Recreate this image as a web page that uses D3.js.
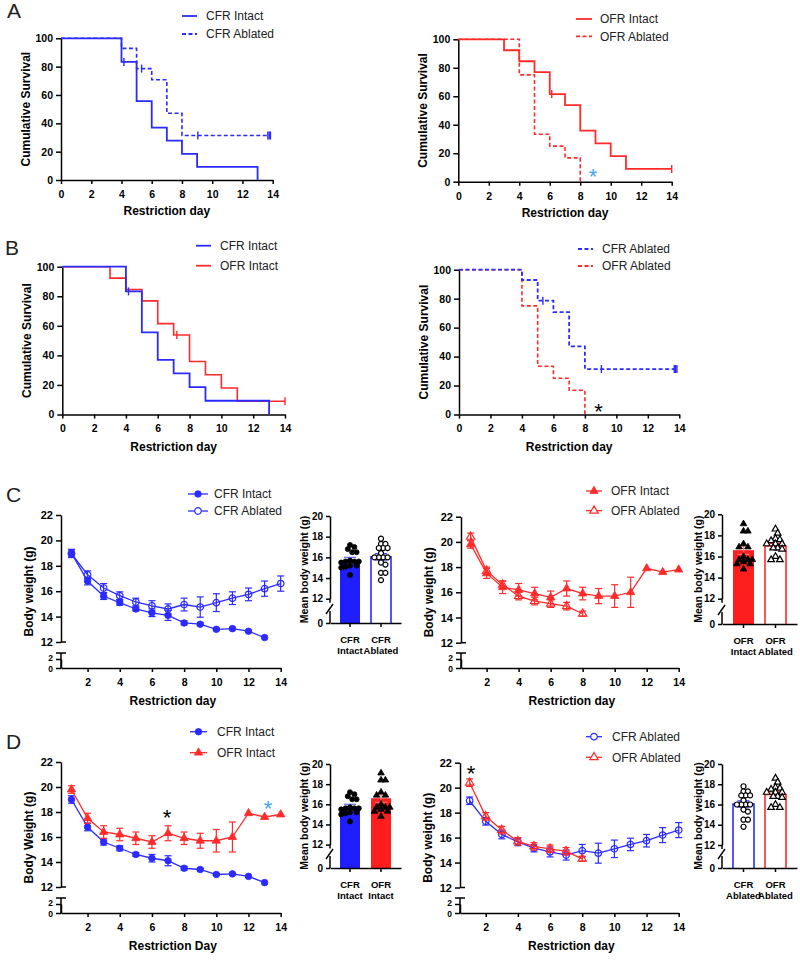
<!DOCTYPE html>
<html><head><meta charset="utf-8">
<script src="https://cdn.jsdelivr.net/npm/d3@7"></script>
<style>body{margin:0;background:#fff;} svg{display:block;}</style>
</head><body><svg id="c" width="800" height="960"></svg>
<script>
// ---------------- DATA ----------------
// Kaplan-Meier survival (time, survival %); last entry = end of follow-up
const survCfrIntactT = [0, 4, 5, 6, 7, 8, 9, 13];
const survCfrIntactS = [100, 83.3, 55.6, 37.0, 27.8, 18.5, 9.3, 0];
const censCfrIntact = [4.16];
const survCfrAblT = [0, 4, 5, 6, 7, 8, 13.85];
const survCfrAblS = [100, 92.9, 78.6, 70.7, 47.1, 31.4, 31.4];
const censCfrAbl = [5.33, 9.05, 13.68, 13.77, 13.85];
const survOfrIntactT = [0, 3, 4, 5, 6, 7, 8, 9, 10, 11, 14];
const survOfrIntactS = [100, 92.3, 84.6, 76.9, 61.5, 53.8, 35.9, 26.9, 17.9, 9.0, 9.0];
const censOfrIntactA = [6.13, 14];
const censOfrIntactB = [7.2, 14];
const survOfrAblT = [0, 4, 5, 6, 7, 8];
const survOfrAblS = [100, 75, 33.3, 25, 16.7, 0];
const survTicksY = [0, 20, 40, 60, 80, 100];
const survTicksX = [0, 2, 4, 6, 8, 10, 12, 14];

// Body weight (g), mean and SEM by restriction day (starting at day 1)
const days = [1, 2, 3, 4, 5, 6, 7, 8, 9, 10, 11, 12, 13, 14];
const cfrIntactMean = [19.0, 16.8, 15.6, 15.1, 14.6, 14.3, 14.1, 13.5, 13.4, 13.0, 13.05, 12.85, 12.35];
const cfrIntactSem  = [0.3, 0.3, 0.25, 0.2, 0.15, 0.3, 0.4, 0.15, 0.1, 0.08, 0.08, 0.08, 0];
const cfrAblMean = [18.95, 17.3, 16.25, 15.65, 15.15, 14.85, 14.6, 14.95, 14.75, 15.1, 15.45, 15.75, 16.2, 16.6];
const cfrAblSem  = [0.3, 0.3, 0.35, 0.3, 0.3, 0.4, 0.4, 0.5, 0.8, 0.7, 0.5, 0.5, 0.6, 0.6];
const ofrIntactMean = [19.8, 17.5, 16.4, 16.2, 15.9, 15.6, 16.3, 15.9, 15.7, 15.7, 16.0, 17.9, 17.6, 17.8];
const ofrIntactSem  = [0.3, 0.4, 0.5, 0.5, 0.5, 0.5, 0.6, 0.5, 0.6, 0.9, 1.2, 0, 0, 0];
const ofrAblMean = [20.4, 17.7, 16.6, 15.7, 15.3, 15.1, 14.9, 14.3];
const ofrAblSem  = [0.3, 0.3, 0.3, 0.3, 0.3, 0.3, 0.3, 0.2];
const weightTicksUpper = [12, 14, 16, 18, 20, 22];
const weightTicksLower = [0, 2];
const weightTicksX = [2, 4, 6, 8, 10, 12, 14];

// Mean body weight per animal (g)
const ptsCfrIntact = [17.2, 17.0, 16.8, 16.5, 16.5, 15.7, 15.6, 15.6, 15.6, 15.5, 15.2, 15.2, 15.1, 15.0, 14.3];
const ptsCfrAbl = [17.8, 17.3, 17.3, 16.9, 16.9, 16.9, 16.4, 16.0, 16.0, 16.0, 16.0, 15.5, 15.3, 14.5, 14.5, 13.8];
const ptsOfrIntact = [19.1, 18.4, 18.4, 17.2, 16.9, 16.9, 16.0, 15.7, 15.7, 15.7, 15.5, 15.3, 15.3, 14.8];
const ptsOfrAbl = [18.6, 18.2, 17.7, 17.6, 17.5, 17.2, 17.2, 17.2, 16.8, 16.8, 16.7, 16.0, 15.7, 15.7];
const barMeanCfrIntact = 15.7, barSemCfrIntact = 0.3;
const barMeanCfrAbl = 16.05, barSemCfrAbl = 0.3;
const barMeanOfrIntact = 16.6, barSemOfrIntact = 0.4;
const barMeanOfrAbl = 17.0, barSemOfrAbl = 0.25;
const barTicksUpper = [12, 14, 16, 18, 20];

// ---------------- DRAWING ----------------
const FONT = '"Liberation Sans", Arial, Helvetica, sans-serif';
const BLUE = '#2b2bff', RED = '#ff2b2b', LBLUE = '#42a5f5';
const BARBLUE = '#1e1eff', BARRED = '#ff1e1e';
const svg = d3.select('#c').attr('font-family', FONT);

function styleAxis(g, fs) {
  g.attr('font-family', FONT);
  g.selectAll('path,line').attr('stroke', '#000').attr('stroke-width', 1.5);
  g.selectAll('text').attr('font-size', fs).attr('font-weight', 'bold').attr('fill', '#000');
}
function stepPath(x, y, T, S) {
  let p = `M${x(T[0])},${y(S[0])}`;
  for (let i = 1; i < T.length; i++) p += `H${x(T[i])}V${y(S[i])}`;
  return p;
}
function survAt(T, S, t) { let v = S[0]; for (let i = 0; i < T.length; i++) if (T[i] <= t) v = S[i]; return v; }
function letter(t, x, y) {
  svg.append('text').attr('x', x).attr('y', y).attr('font-size', 21).attr('fill', '#222').text(t);
}
function star(cx, cy, color) {
  svg.append('text').attr('x', cx).attr('y', cy + 12.5).attr('text-anchor', 'middle')
    .attr('font-size', 22).attr('fill', color).text('*');
}

function survPanel(o) {
  const x = d3.scaleLinear().domain([0, 14]).range([o.ax, o.x14]);
  const y = d3.scaleLinear().domain([0, 100]).range([o.y0, o.y100]);
  const g = svg.append('g');
  styleAxis(g.append('g').attr('transform', `translate(${o.ax},0)`)
    .call(d3.axisLeft(y).tickValues(survTicksY).tickSize(5).tickSizeOuter(0).tickPadding(3)), 10.5);
  styleAxis(g.append('g').attr('transform', `translate(0,${o.y0})`)
    .call(d3.axisBottom(x).tickValues(survTicksX).tickSize(4).tickSizeOuter(0).tickPadding(6.5)), 10.5);
  o.curves.slice().reverse().forEach((c, j) => {
    g.append('path').attr('d', stepPath(x, y, c.T, c.S)).attr('fill', 'none')
      .attr('stroke', c.color).attr('stroke-width', j === o.curves.length - 1 ? 1.8 : 1.6)
      .attr('stroke-dasharray', c.dash ? '4,2.5' : null);
    (c.cens || []).forEach(t => {
      const v = survAt(c.T, c.S, t);
      g.append('line').attr('x1', x(t)).attr('x2', x(t)).attr('y1', y(v) - 4).attr('y2', y(v) + 4)
        .attr('stroke', c.color).attr('stroke-width', 1.4);
    });
  });
  g.append('text').attr('x', (o.ax + o.x14) / 2).attr('y', o.y0 + o.titleDy).attr('text-anchor', 'middle')
    .attr('font-weight', 'bold').attr('font-size', 12).text('Restriction day');
  g.append('text').attr('transform', `translate(${o.ax - 31},${(o.y0 + o.y100) / 2}) rotate(-90)`)
    .attr('text-anchor', 'middle').attr('font-weight', 'bold').attr('font-size', 12).text('Cumulative Survival');
  o.curves.forEach((c, i) => {
    const ly = o.ly[i];
    g.append('line').attr('x1', o.lx[0]).attr('x2', o.lx[1]).attr('y1', ly).attr('y2', ly)
      .attr('stroke', c.color).attr('stroke-width', 1.8).attr('stroke-dasharray', c.dash ? '4,2.5' : null);
    g.append('text').attr('x', o.tx).attr('y', ly + 4.3).attr('font-size', 12).attr('fill', '#222').text(c.name);
  });
}

function marker(g, shape, filled, color, cx, cy, size, openFill) {
  g.append('path').attr('d', d3.symbol().type(shape === 'circle' ? d3.symbolCircle : d3.symbolTriangle).size(size)())
    .attr('transform', `translate(${cx},${cy})`)
    .attr('fill', filled ? color : (openFill || 'none')).attr('stroke', color).attr('stroke-width', filled ? 0.8 : 1.2);
}

function linePanel(o) {
  const x = d3.scaleLinear().domain([o.dmin, 14]).range([o.ax, o.x14]);
  const yU = d3.scaleLinear().domain([12, 22]).range([o.y12, o.y22]);
  const yL = d3.scaleLinear().domain([0, 2]).range([o.y0, o.y2]);
  const g = svg.append('g');
  styleAxis(g.append('g').attr('transform', `translate(${o.ax},0)`)
    .call(d3.axisLeft(yU).tickValues(weightTicksUpper).tickSize(5).tickSizeOuter(0).tickPadding(3)), 11);
  const gl = g.append('g').attr('transform', `translate(${o.ax},0)`)
    .call(d3.axisLeft(yL).tickValues(weightTicksLower).tickFormat(d3.format('d')).tickSize(5).tickSizeOuter(0).tickPadding(3));
  styleAxis(gl, 8.5);
  gl.selectAll('.tick text').attr('dy', d => d === 2 ? '0.2em' : '0.42em');
  g.append('line').attr('x1', o.ax).attr('x2', o.ax).attr('y1', o.yCap).attr('y2', o.y0).attr('stroke', '#000').attr('stroke-width', 1.5);
  g.append('line').attr('x1', o.ax - 5).attr('x2', o.ax + 5).attr('y1', o.yCap).attr('y2', o.yCap).attr('stroke', '#000').attr('stroke-width', 1.5);
  g.append('line').attr('x1', o.ax).attr('x2', o.ax + 5).attr('y1', o.y12).attr('y2', o.y12).attr('stroke', '#000').attr('stroke-width', 1.5);
  styleAxis(g.append('g').attr('transform', `translate(0,${o.y0})`)
    .call(d3.axisBottom(x).tickValues(weightTicksX).tickSize(4).tickSizeOuter(0).tickPadding(6.5)), 10.5);
  g.append('text').attr('x', (o.ax + o.x14) / 2 + 2).attr('y', o.y0 + 37).attr('text-anchor', 'middle')
    .attr('font-weight', 'bold').attr('font-size', 12).text(o.xTitle);
  g.append('text').attr('transform', `translate(${o.ax - 28},${(o.y0 + o.y22) / 2}) rotate(-90)`)
    .attr('text-anchor', 'middle').attr('font-weight', 'bold').attr('font-size', 12).text(o.yTitle);
  o.series.forEach(s => {
    const pts = s.mean.map((m, i) => ({ d: days[i], m, e: s.sem[i] }));
    pts.filter(p => p.e > 0).forEach(p => {
      const a = yU(p.m - p.e), b = yU(p.m + p.e), cx = x(p.d);
      g.append('line').attr('x1', cx).attr('x2', cx).attr('y1', a).attr('y2', b).attr('stroke', s.color).attr('stroke-width', 1.2);
      [a, b].forEach(yy => g.append('line').attr('x1', cx - 3.5).attr('x2', cx + 3.5).attr('y1', yy).attr('y2', yy)
        .attr('stroke', s.color).attr('stroke-width', 1.2));
    });
    g.append('path').datum(pts).attr('d', d3.line().x(p => x(p.d)).y(p => yU(p.m)))
      .attr('fill', 'none').attr('stroke', s.color).attr('stroke-width', 1.3);
    pts.forEach(p => marker(g, s.shape, s.filled, s.color, x(p.d), yU(p.m), s.shape === 'circle' ? 34 : 30));
  });
  o.series.forEach((s, i) => {
    const ly = o.ly[i];
    g.append('line').attr('x1', o.lx[0]).attr('x2', o.lx[1]).attr('y1', ly).attr('y2', ly).attr('stroke', s.color).attr('stroke-width', 1.3);
    marker(g, s.shape, s.filled, s.color, (o.lx[0] + o.lx[1]) / 2, ly, s.shape === 'circle' ? 34 : 30, '#fff');
    g.append('text').attr('x', o.tx).attr('y', ly + 4.3).attr('font-size', 12).attr('fill', '#222').text(s.name);
  });
}

// deterministic beeswarm placement (horizontal offsets only)
function swarm(vals, yfun, step, minDist) {
  const order = vals.map(v => ({ v, y: yfun(v), x: 0 })).sort((a, b) => a.y - b.y);
  const placed = [];
  order.forEach(p => {
    for (let k = 0; k < 40; k++) {
      const off = (k % 2 ? 1 : -1) * Math.ceil(k / 2) * step;
      if (placed.every(q => Math.hypot(q.x - off, q.y - p.y) >= minDist)) { p.x = off; break; }
    }
    placed.push(p);
  });
  return placed;
}

function barPanel(o) {
  const yU = d3.scaleLinear().domain([12, 20]).range([o.y12, o.y20]);
  const yL = d3.scaleLinear().domain([0, 2]).range([o.y0, o.y0 - 10]);
  const xb = d3.scaleBand().domain(o.bars.map(b => b.key)).range([o.ax, o.ax + o.w]).paddingInner(o.pi).paddingOuter(o.po);
  const g = svg.append('g');
  o.bars.forEach(b => {
    const x0 = xb(b.key), bw = xb.bandwidth(), top = yU(b.mean);
    if (b.filled) {
      g.append('rect').attr('x', x0).attr('y', top).attr('width', bw).attr('height', yL(0) - top).attr('fill', b.color);
    } else {
      g.append('path').attr('d', `M${x0},${yL(0)}V${top}H${x0 + bw}V${yL(0)}`).attr('fill', 'none')
        .attr('stroke', b.color).attr('stroke-width', 1.5);
    }
    const cx = x0 + bw / 2, a = yU(b.mean - b.sem), c = yU(b.mean + b.sem);
    g.append('line').attr('x1', cx).attr('x2', cx).attr('y1', a).attr('y2', c).attr('stroke', b.errColor).attr('stroke-width', 1.2);
    [a, c].forEach(yy => g.append('line').attr('x1', cx - 6).attr('x2', cx + 6).attr('y1', yy).attr('y2', yy)
      .attr('stroke', b.errColor).attr('stroke-width', 1.2));
    swarm(b.pts, yU, 2.2, 4.3).forEach(p => marker(g, b.shape, b.ptFilled, '#000', cx + p.x, p.y, b.shape === 'circle' ? 20 : 19, '#fff'));
    g.append('text').attr('x', cx).attr('y', yL(0) + 20).attr('text-anchor', 'middle').attr('font-weight', 'bold').attr('font-size', 9.5).text(b.l1);
    g.append('text').attr('x', cx).attr('y', yL(0) + 31).attr('text-anchor', 'middle').attr('font-weight', 'bold').attr('font-size', 9.5).text(b.l2);
  });
  styleAxis(g.append('g').attr('transform', `translate(${o.ax},0)`)
    .call(d3.axisLeft(yU).tickValues(barTicksUpper).tickSize(4).tickSizeOuter(0).tickPadding(3)), 10);
  const gl = g.append('g').attr('transform', `translate(${o.ax},0)`)
    .call(d3.axisLeft(yL).tickValues([0]).tickFormat(d3.format('d')).tickSize(4).tickSizeOuter(0).tickPadding(3));
  gl.select('.domain').remove();
  styleAxis(gl, 10);
  g.append('line').attr('x1', o.ax).attr('x2', o.ax).attr('y1', o.y12).attr('y2', o.y12 + 4).attr('stroke', '#000').attr('stroke-width', 1.5);
  g.append('line').attr('x1', o.ax).attr('x2', o.ax).attr('y1', o.y0 - 12).attr('y2', o.y0).attr('stroke', '#000').attr('stroke-width', 1.5);
  g.append('line').attr('x1', o.ax - 4).attr('x2', o.ax + 3).attr('y1', o.y0 - 9).attr('y2', o.y0 - 19).attr('stroke', '#000').attr('stroke-width', 1.4);
  const xa = g.append('g').attr('transform', `translate(0,${yL(0)})`).call(d3.axisBottom(xb).tickSize(4).tickSizeOuter(0).tickFormat(''));
  styleAxis(xa, 10);
  g.append('text').attr('transform', `translate(${o.lblX},${(o.y20 + o.y0) / 2}) rotate(-90)`)
    .attr('text-anchor', 'middle').attr('font-weight', 'bold').attr('font-size', 10.5).text('Mean body weight (g)');
}

// ---- Panel A ----
letter('A', 7, 18);
survPanel({ ax: 61, x14: 272.7, y0: 180, y100: 38.3, titleDy: 35, lx: [182, 197], ly: [16, 34], tx: 206,
  curves: [
    { name: 'CFR Intact', T: survCfrIntactT, S: survCfrIntactS, cens: censCfrIntact, color: BLUE, dash: false },
    { name: 'CFR Ablated', T: survCfrAblT, S: survCfrAblS, cens: censCfrAbl, color: BLUE, dash: true }] });
survPanel({ ax: 458.3, x14: 671.7, y0: 181.7, y100: 39.3, titleDy: 35, lx: [576, 592], ly: [19, 36.3], tx: 600,
  curves: [
    { name: 'OFR Intact', T: survOfrIntactT, S: survOfrIntactS, cens: censOfrIntactA, color: RED, dash: false },
    { name: 'OFR Ablated', T: survOfrAblT, S: survOfrAblS, cens: [], color: RED, dash: true }] });
star(593, 171, LBLUE);

// ---- Panel B ----
letter('B', 5, 255);
survPanel({ ax: 62.3, x14: 285, y0: 414.5, y100: 266.7, titleDy: 36.5, lx: [196, 211], ly: [245.7, 265.7], tx: 220,
  curves: [
    { name: 'CFR Intact', T: survCfrIntactT, S: survCfrIntactS, cens: censCfrIntact, color: BLUE, dash: false },
    { name: 'OFR Intact', T: survOfrIntactT, S: survOfrIntactS, cens: censOfrIntactB, color: RED, dash: false }] });
survPanel({ ax: 459, x14: 679.3, y0: 414.5, y100: 269.7, titleDy: 36.5, lx: [578, 593], ly: [249, 266], tx: 602,
  curves: [
    { name: 'CFR Ablated', T: survCfrAblT, S: survCfrAblS, cens: censCfrAbl, color: BLUE, dash: true },
    { name: 'OFR Ablated', T: survOfrAblT, S: survOfrAblS, cens: [], color: RED, dash: true }] });
star(598.5, 406, '#000');

// ---- Panel C ----
letter('C', 6, 502);
const sCfrI = { name: 'CFR Intact', mean: cfrIntactMean, sem: cfrIntactSem, color: BLUE, shape: 'circle', filled: true };
const sCfrA = { name: 'CFR Ablated', mean: cfrAblMean, sem: cfrAblSem, color: BLUE, shape: 'circle', filled: false };
const sOfrI = { name: 'OFR Intact', mean: ofrIntactMean, sem: ofrIntactSem, color: RED, shape: 'triangle', filled: true };
const sOfrA = { name: 'OFR Ablated', mean: ofrAblMean, sem: ofrAblSem, color: RED, shape: 'triangle', filled: false };
linePanel({ ax: 61, dmin: 0.35, x14: 280.7, y22: 515, y12: 642, yCap: 653, y2: 659, y0: 668,
  xTitle: 'Restriction day', yTitle: 'Body weight (g)', lx: [188, 208], ly: [494, 511], tx: 214, series: [sCfrI, sCfrA] });
linePanel({ ax: 461, dmin: 0.4, x14: 678.7, y22: 516.7, y12: 642.7, yCap: 653, y2: 659, y0: 668,
  xTitle: 'Restriction day', yTitle: 'Body weight (g)', lx: [586, 602], ly: [491, 510.7], tx: 611, series: [sOfrI, sOfrA] });

const bCfrI = { key: 'cfrI', l1: 'CFR', l2: 'Intact', pts: ptsCfrIntact, mean: barMeanCfrIntact, sem: barSemCfrIntact, color: BARBLUE, errColor: '#6a6aff', filled: true, shape: 'circle', ptFilled: true };
const bCfrA = { key: 'cfrA', l1: 'CFR', l2: 'Ablated', pts: ptsCfrAbl, mean: barMeanCfrAbl, sem: barSemCfrAbl, color: BARBLUE, errColor: BARBLUE, filled: false, shape: 'circle', ptFilled: false };
const bOfrI = { key: 'ofrI', l1: 'OFR', l2: 'Intact', pts: ptsOfrIntact, mean: barMeanOfrIntact, sem: barSemOfrIntact, color: BARRED, errColor: '#ff7070', filled: true, shape: 'triangle', ptFilled: true };
const bOfrA = { key: 'ofrA', l1: 'OFR', l2: 'Ablated', pts: ptsOfrAbl, mean: barMeanOfrAbl, sem: barSemOfrAbl, color: BARRED, errColor: BARRED, filled: false, shape: 'triangle', ptFilled: false };

barPanel({ ax: 330, w: 71, pi: 0.355, po: 0.3226, y20: 516, y12: 598.7, y0: 623, lblX: 308, bars: [bCfrI, bCfrA] });
barPanel({ ax: 722, w: 75, pi: 0.344, po: 0.344, y20: 514.3, y12: 598.7, y0: 624, lblX: 702, bars: [bOfrI, bOfrA] });

// ---- Panel D ----
letter('D', 6, 749);
linePanel({ ax: 61, dmin: 0.35, x14: 280.7, y22: 762, y12: 887, yCap: 898, y2: 904, y0: 913,
  xTitle: 'Restriction Day', yTitle: 'Body Weight (g)', lx: [190, 207], ly: [731.7, 752.7], tx: 217, series: [sCfrI, sOfrI] });
linePanel({ ax: 460, dmin: 0.4, x14: 678.7, y22: 762.7, y12: 887.5, yCap: 898, y2: 904, y0: 913,
  xTitle: 'Restriction day', yTitle: 'Body weight (g)', lx: [586, 602], ly: [736.7, 757.3], tx: 612, series: [sCfrA, sOfrA] });
barPanel({ ax: 330, w: 71, pi: 0.355, po: 0.3226, y20: 764, y12: 844.6, y0: 868, lblX: 308, bars: [bCfrI, bOfrI] });
barPanel({ ax: 722, w: 75, pi: 0.344, po: 0.344, y20: 764, y12: 845, y0: 868, lblX: 702, bars: [bCfrA, bOfrA] });
star(167, 812, '#000');
star(268, 803, LBLUE);
star(471, 768, '#000');
</script></body></html>
